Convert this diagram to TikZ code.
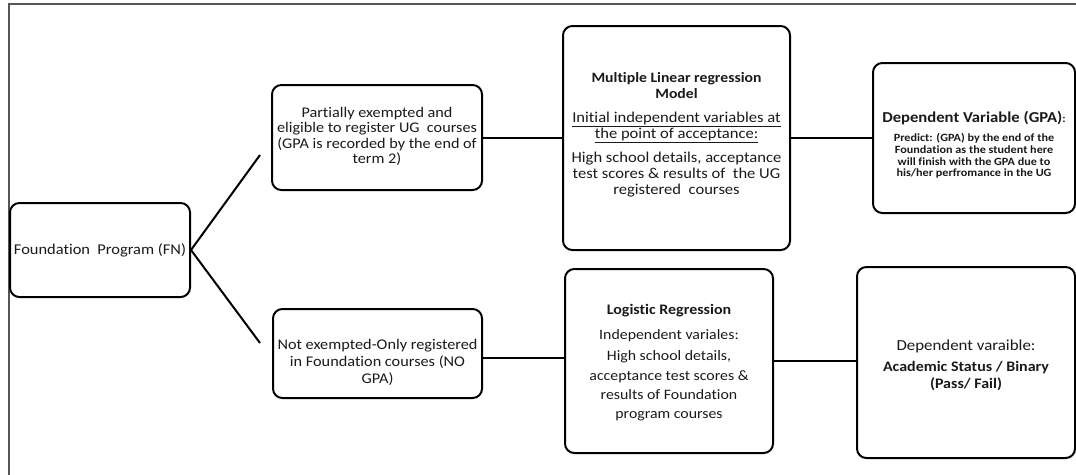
\documentclass[tikz,border=0pt]{standalone}
\usepackage{fontspec}
\setmainfont{Carlito}[Ligatures=NoCommon, FakeStretch=1.1]
\definecolor{txt}{HTML}{1A1A1A}
\definecolor{frame}{HTML}{555555}
\newcommand{\fsz}[2]{\fontsize{#1}{#2}\selectfont}
\tikzset{
  box/.style={draw=black, line width=1.5pt, rounded corners=7pt, inner sep=0pt},
  label text/.style={align=center, inner sep=0pt, text=txt},
  conn/.style={line width=1.5pt, black},
}
\begin{document}
\begin{tikzpicture}[x=0.75pt,y=-0.75pt]
\useasboundingbox (0,0) rectangle (1076,475);
\draw[frame, line width=1.5pt] (9,475) -- (9,4) -- (1076,4);

% boxes
\node[box, minimum width=135pt, minimum height=70.5pt] (fn) at (100,250) {};
\node[box, minimum width=157.5pt, minimum height=78.75pt] (p1) at (377,137.5) {};
\node[box, minimum width=170.25pt, minimum height=168pt] (m) at (676.5,138) {};
\node[box, minimum width=151.5pt, minimum height=112.5pt] (d1) at (974,138) {};
\node[box, minimum width=156.75pt, minimum height=66.75pt] (p2) at (377.5,353.5) {};
\node[box, minimum width=156pt, minimum height=138pt] (l) at (669,361) {};
\node[box, minimum width=163.5pt, minimum height=143.25pt] (d2) at (966,362.5) {};

% texts
\node[label text, font=\fsz{11.2}{12.5}] (fnt) at (fn.center) {Foundation\ \ Program (FN)};

\node[label text, font=\fsz{11.05}{11.4}] (p1t) at ([yshift=0.75pt]p1.center)
  {Partially exempted and\\ eligible to register UG\ \ courses\\ (GPA is recorded by the end of\\ term 2)};

\node[label text, font=\fsz{11.3}{12}] (mt) at ([yshift=2.5pt]m.center)
  {{\fsz{10.7}{12}\bfseries Multiple Linear regression}\\ {\fsz{10.7}{12}\bfseries Model}\\[6pt]
   \underline{Initial independent variables at}\\ \underline{the point of acceptance:}\\[6pt]
   High school details, acceptance\\ test scores \& results of\ \ the UG\\ registered\ \ courses};

\node[label text, font=\fsz{8.3}{8.75}\bfseries] (d1t) at ([yshift=-5pt]d1.center)
  {{\fsz{11.35}{12}Dependent Variable (GPA)}:\\[6pt]
   Predict: (GPA) by the end of the\\ Foundation as the student here\\ will finish with the GPA due to\\ his/her perfromance in the UG};

\node[label text, font=\fsz{11.1}{12.75}] (p2t) at ([yshift=-6.5pt]p2.center)
  {Not exempted-Only registered\\ in Foundation courses (NO\\ GPA)};

\node[label text, font=\fsz{10.8}{14.5}] (lt) at ([yshift=-1.5pt]l.center)
  {{\fsz{10.9}{14.5}\bfseries Logistic Regression}\\[4pt] Independent variales:\\[1.5pt]
   High school details,\\ acceptance test scores \&\\ results of Foundation\\ program courses};

\node[label text, font=\fsz{11.5}{12.5}] (d2t) at ([yshift=-2.2pt]d2.center)
  {Dependent varaible:\\[3pt] {\fsz{10.9}{12.5}\bfseries Academic Status / Binary}\\ {\fsz{10.9}{12.5}\bfseries (Pass/ Fail)}};

% connectors
\coordinate (e1) at (260,155);
\coordinate (e2) at (260,343);
\draw[conn] (e1) -- (fn.east) -- (e2);
\draw[conn] (p1.east |- 0,138) -- (m.west |- 0,138);
\draw[conn] (m.east |- 0,138) -- (d1.west |- 0,138);
\draw[conn] (p2.east |- 0,358) -- (l.west |- 0,358);
\draw[conn] (l.east |- 0,361) -- (d2.west |- 0,361);
\end{tikzpicture}
\end{document}
